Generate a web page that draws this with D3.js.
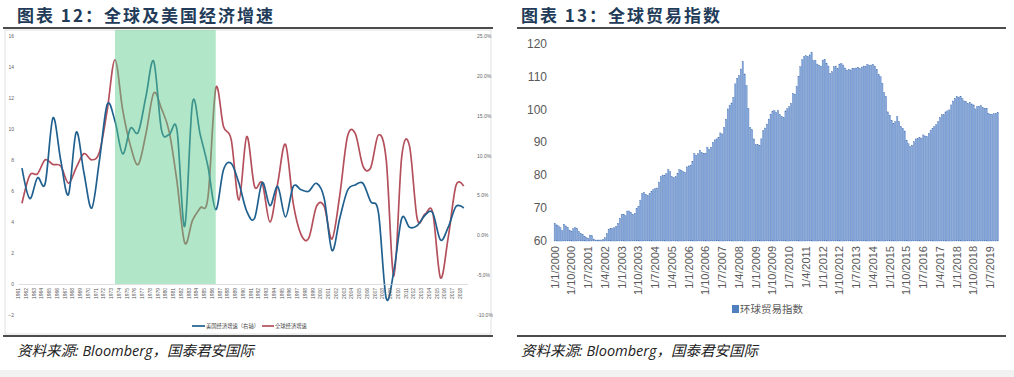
<!DOCTYPE html>
<html>
<head>
<meta charset="utf-8">
<script src="https://cdn.jsdelivr.net/npm/d3@7"></script>
<style>
  body { margin: 0; background: #fff; }
  svg { display: block; }
</style>
</head>
<body>
<svg id="page" width="1014" height="377"></svg>
<script>
// ---------- chart 12 data ----------
const years = [1961,1962,1963,1964,1965,1966,1967,1968,1969,1970,1971,1972,1973,1974,1975,1976,1977,1978,1979,1980,
  1981,1982,1983,1984,1985,1986,1987,1988,1989,1990,1991,1992,1993,1994,1995,1996,1997,1998,1999,2000,
  2001,2002,2003,2004,2005,2006,2007,2008,2009,2010,2011,2012,2013,2014,2015,2016,2017,2018];
// US growth, plotted on right axis (%)
const usGrowth = [8.4,4.6,7.2,6.5,14.7,9.4,5.1,12.9,7.8,3.4,9.4,16.4,14.3,10.2,13.4,12.9,17.4,21.8,13.2,12.6,
  13.2,1.1,16.6,12.6,8.6,3.2,8.2,9.0,6.5,3.0,2.1,6.6,3.7,6.1,2.3,6.1,5.7,5.5,6.5,4.6,
  -1.9,2.1,5.6,6.3,6.5,4.2,2.8,-7.9,-4.4,2.1,1.0,1.2,2.5,2.8,-0.6,1.0,3.6,3.4];
// global growth, plotted on left axis
const worldGrowth = [5.2,7.0,7.1,8.0,7.7,7.6,6.5,7.5,8.4,8.0,8.5,11.2,14.45,11.2,8.9,7.7,9.7,12.3,11.3,9.8,
  6.6,2.65,4.1,4.9,5.6,12.6,10.15,9.3,5.4,9.5,6.3,6.5,4.0,6.5,9.0,5.2,3.2,2.95,5.0,5.0,
  2.9,5.7,9.5,9.7,7.6,7.5,9.6,8.0,0.5,8.2,8.9,4.2,4.5,4.6,0.4,3.0,6.35,6.3];
const shadeFrom = 1973, shadeTo = 1986;
const leftTicks = [-2,0,2,4,6,8,10,12,14,16];
const rightTicks = [-10,-5,0,5,10,15,20,25];

// ---------- chart 13 data ----------
const tradeIndex = [
  65.4,64.9,64.6,64.0,63.1,65.1,64.6,64.1,63.3,63.0,63.8,64.0,
  63.8,62.8,62.3,62.0,61.3,61.0,60.8,61.8,61.6,60.6,60.3,60.3,
  60.3,60.3,60.4,61.0,62.3,63.6,63.8,63.8,64.0,64.5,65.4,66.9,
  68.1,68.1,67.7,69.1,69.1,68.6,68.1,68.4,69.9,70.4,72.4,74.4,
  74.7,74.1,73.9,74.4,75.1,75.6,75.9,76.1,77.9,79.5,80.0,80.0,
  80.5,81.7,81.0,79.5,79.2,79.5,80.5,81.7,81.5,81.0,80.8,82.5,
  82.8,83.0,84.2,86.5,86.0,86.5,87.5,86.8,86.5,86.5,88.5,87.8,
  88.5,90.0,90.7,91.0,91.5,92.8,92.5,94.5,97.0,100.1,101.1,101.9,
  103.6,107.7,109.4,110.2,112.2,114.4,110.7,107.2,100.3,94.5,93.8,91.0,
  89.2,89.2,89.0,91.0,93.5,94.3,95.5,97.0,98.5,99.3,99.6,99.0,
  99.6,98.3,97.8,97.5,99.5,100.2,100.8,101.8,104.8,104.6,106.8,110.0,
  112.9,115.0,116.0,116.2,116.0,116.5,117.2,114.7,114.9,113.7,113.4,113.1,
  114.9,115.1,114.0,113.1,110.9,111.4,112.9,113.1,112.4,113.7,113.9,113.4,
  112.5,111.9,112.1,111.9,112.4,112.4,112.5,112.7,112.4,112.8,113.1,112.9,
  113.6,113.3,113.4,113.6,113.1,112.1,110.5,109.9,107.9,105.0,103.8,99.2,
  98.2,96.5,95.7,96.2,97.7,96.2,94.8,94.2,93.4,90.6,89.5,88.6,
  89.1,90.1,91.0,91.2,91.4,91.2,92.2,91.9,91.7,92.7,93.5,94.2,
  94.8,95.3,96.2,97.5,98.3,98.3,99.2,99.5,99.8,101.3,102.5,103.3,
  103.9,103.5,103.9,103.2,102.5,102.3,101.8,102.1,101.6,101.3,100.1,100.8,
  100.9,101.1,100.5,100.3,100.3,98.8,98.5,98.5,98.6,98.8,99.1];
const startYear = 2000;
const months = tradeIndex.map((d, i) => `1/${i % 12 + 1}/${startYear + Math.floor(i / 12)}`);
const monthTicks = ["1/1/2000","1/10/2000","1/7/2001","1/4/2002","1/1/2003","1/10/2003","1/7/2004","1/4/2005",
  "1/1/2006","1/10/2006","1/7/2007","1/4/2008","1/1/2009","1/10/2009","1/7/2010","1/4/2011","1/1/2012",
  "1/10/2012","1/7/2013","1/4/2014","1/1/2015","1/10/2015","1/7/2016","1/4/2017","1/1/2018","1/10/2018","1/7/2019"];
const tradeTicks = [60,70,80,90,100,110,120];

const svg = d3.select("#page");
svg.append("rect").attr("width", 1014).attr("height", 377).attr("fill", "#fff");
svg.append("rect").attr("x", 0).attr("y", 370).attr("width", 1014).attr("height", 7).attr("fill", "#f2f2f2");

const titleColor = "#213b58";
const cjk = "'Noto Sans CJK SC', 'Noto Sans', sans-serif";

function panelFrame(x0, x1, title, tx) {
    svg.append("text").attr("x", tx).attr("y", 22)
        .attr("font-family", cjk).attr("font-weight", "bold")
        .attr("font-size", 17).attr("letter-spacing", 2)
        .attr("fill", titleColor).text(title);
    svg.append("line").attr("x1", x0).attr("x2", x1).attr("y1", 28).attr("y2", 28)
        .attr("stroke", "#111").attr("stroke-width", 1.4);
    svg.append("line").attr("x1", x0).attr("x2", x1).attr("y1", 336).attr("y2", 336)
        .attr("stroke", "#111").attr("stroke-width", 1.4);
    const src = svg.append("text").attr("x", tx).attr("y", 356)
        .attr("font-family", "'Open Sans', " + cjk).attr("font-style", "italic")
        .attr("font-size", 14.5).attr("fill", "#222");
    src.text("资料来源: Bloomberg，国泰君安国际");
}

panelFrame(3, 493, "图表 12：全球及美国经济增速", 17);
panelFrame(517, 1006, "图表 13：全球贸易指数", 521);

// ---------- chart 12 ----------
const g1 = svg.append("g");
g1.append("rect").attr("x", 5).attr("y", 30).attr("width", 486).attr("height", 304)
    .attr("fill", "none").attr("stroke", "#d9d9d9").attr("stroke-width", 0.8);

let xYear = d3.scaleBand().domain(years).range([18.1, 467.6]);
let yLeft = d3.scaleLinear().domain([-2, 16]).range([315, 35.7]);
let yRight = d3.scaleLinear().domain([-10, 25]).range([315, 35.7]);
const cx = d => xYear(d) + xYear.bandwidth() / 2;

const smallFont = "'Liberation Sans', Arial, sans-serif";

let leftAxis = d3.axisLeft(yLeft).tickValues(leftTicks).tickSize(0).tickPadding(0);
g1.append("g").attr("transform", "translate(14,0)").call(leftAxis)
    .call(a => a.select(".domain").remove())
    .selectAll("text").attr("font-size", 5).attr("font-family", smallFont).attr("fill", "#666");

let rightAxis = d3.axisRight(yRight).tickValues(rightTicks).tickSize(0).tickPadding(0)
    .tickFormat(d => d.toFixed(1) + "%");
g1.append("g").attr("transform", "translate(477,0)").call(rightAxis)
    .call(a => a.select(".domain").remove())
    .selectAll("text").attr("font-size", 5).attr("font-family", smallFont).attr("fill", "#666");

let lineWorld = d3.line().x((d, i) => cx(years[i])).y(d => yLeft(d)).curve(d3.curveCardinal.tension(0));
let lineUS = d3.line().x((d, i) => cx(years[i])).y(d => yRight(d)).curve(d3.curveCardinal.tension(0));

g1.append("path").attr("d", lineWorld(worldGrowth)).attr("fill", "none")
    .attr("stroke", "#b4505c").attr("stroke-width", 1.7);
g1.append("path").attr("d", lineUS(usGrowth)).attr("fill", "none")
    .attr("stroke", "#20608f").attr("stroke-width", 1.7);

// shaded period drawn over the lines, semi-transparent
g1.append("rect").attr("x", cx(shadeFrom)).attr("y", 30)
    .attr("width", cx(shadeTo) - cx(shadeFrom)).attr("height", yLeft(0) - 30)
    .attr("fill", "#5ccd8c").attr("opacity", 0.48);

let xAxis1 = d3.axisBottom(xYear).tickSize(0).tickPadding(2);
g1.append("g").attr("transform", `translate(0,${yLeft(0)})`).call(xAxis1)
    .call(a => a.select(".domain").attr("stroke", "#d0d0d0").attr("stroke-width", 0.7))
    .selectAll("text").attr("font-size", 5).attr("font-family", smallFont).attr("fill", "#555")
    .attr("transform", "rotate(-90)").attr("text-anchor", "end")
    .attr("dx", "-2").attr("dy", "-0.35em").attr("y", 0).attr("x", -2);

// legend
const leg1 = g1.append("g").attr("font-family", cjk).attr("font-size", 5.3).attr("fill", "#444");
leg1.append("line").attr("x1", 192).attr("x2", 205).attr("y1", 326).attr("y2", 326)
    .attr("stroke", "#20608f").attr("stroke-width", 1.7);
leg1.append("text").attr("x", 206).attr("y", 328).text("美国经济增速（右轴）");
leg1.append("line").attr("x1", 262).attr("x2", 274).attr("y1", 326).attr("y2", 326)
    .attr("stroke", "#b4505c").attr("stroke-width", 1.7);
leg1.append("text").attr("x", 275).attr("y", 328).text("全球经济增速");

// ---------- chart 13 ----------
const g2 = svg.append("g");
let xMonth = d3.scaleBand().domain(months).range([554.1, 998.4]).paddingInner(0.28);
let yTrade = d3.scaleLinear().domain([60, 120]).range([241, 43.3]);

g2.selectAll(".bar").data(tradeIndex).enter().append("rect")
    .attr("x", (d, i) => xMonth(months[i]))
    .attr("y", d => yTrade(d))
    .attr("width", xMonth.bandwidth())
    .attr("height", d => yTrade(60) - yTrade(d))
    .attr("fill", "#86a8dc").attr("stroke", "#4f78b8").attr("stroke-width", 0.35);

let yAxis2 = d3.axisLeft(yTrade).tickValues(tradeTicks).tickSize(0).tickPadding(0);
g2.append("g").attr("transform", "translate(547,0)").call(yAxis2)
    .call(a => a.select(".domain").remove())
    .selectAll("text").attr("font-size", 12).attr("font-family", smallFont).attr("fill", "#595959");

let xAxis2 = d3.axisBottom(xMonth).tickValues(monthTicks).tickSize(0).tickPadding(0);
g2.append("g").attr("transform", `translate(0,${yTrade(60)})`).call(xAxis2)
    .call(a => a.select(".domain").remove())
    .selectAll("text").attr("font-size", 11).attr("font-family", smallFont).attr("fill", "#595959")
    .attr("transform", "rotate(-90)").attr("text-anchor", "end")
    .attr("x", -5).attr("y", 0).attr("dy", "0.35em");

const leg2 = g2.append("g");
leg2.append("rect").attr("x", 732).attr("y", 305).attr("width", 7).attr("height", 8).attr("fill", "#4f7fbf");
leg2.append("text").attr("x", 740).attr("y", 313).attr("font-family", cjk).attr("font-size", 10.5)
    .attr("fill", "#595959").text("环球贸易指数");
</script>
</body>
</html>
